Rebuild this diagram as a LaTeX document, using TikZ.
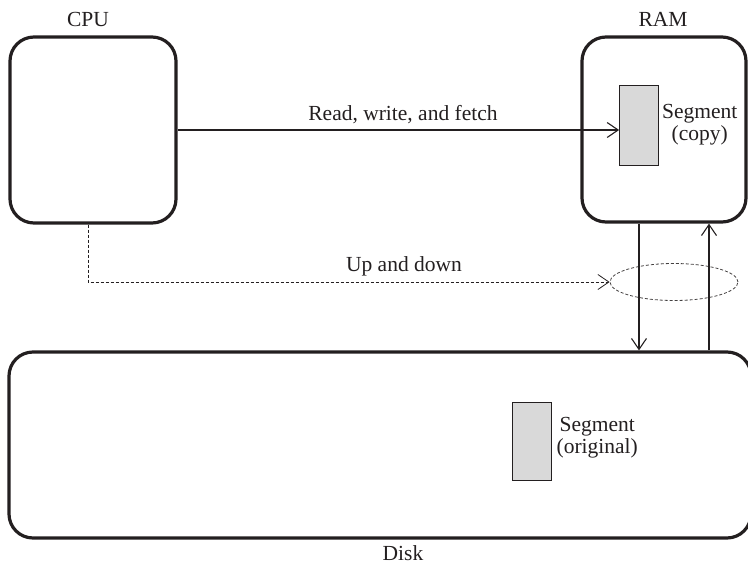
\documentclass[tikz,border=0pt]{standalone}
\usepackage{fontspec}
\setmainfont{Liberation Serif}
\usetikzlibrary{arrows.meta,shapes.geometric,positioning}
\definecolor{ink}{HTML}{231F20}
\definecolor{segfill}{HTML}{D9D9D9}
\tikzset{
	unit/.style={draw=ink, line width=3.2pt, rounded corners=24pt, inner sep=0pt},
	seg/.style={draw=ink, fill=segfill, line width=0.8pt, minimum width=39pt, minimum height=80pt, inner sep=0pt},
	lbl/.style={font=\fontsize{21.5}{22}\selectfont, text=ink, inner sep=1pt},
	link/.style={draw=ink, line width=1.1pt, -{Straight Barb[length=11pt,width=15pt]}},
	dlink/.style={link, line width=0.8pt, dash pattern=on 3pt off 2pt},
}

\begin{document}
\begin{tikzpicture}[x=1pt, y=-1pt]
			%%%%% START %%%%%
			\useasboundingbox (0, 0) rectangle (748, 565);
			
			\node[unit, minimum width=166pt, minimum height=186pt] (cpu) at (93, 130) {};
			\node[unit, minimum width=164pt, minimum height=185pt] (ram) at (664, 129.5) {};
			\node[unit, minimum width=742pt, minimum height=186pt] (disk) at (380, 445) {};
			
			\node[lbl, anchor=base] (cpulbl) at (88, 26) {CPU};
			\node[lbl, anchor=base] (ramlbl) at (663, 26) {RAM};
			\node[lbl, anchor=base] (disklbl) at (403, 560) {Disk};
			
			\node[seg] (segcopy) at (639, 125) {};
			\node[lbl, align=center, right=2pt of segcopy] (copylbl) {Segment\\(copy)};
			\node[seg, minimum height=78pt] (segorig) at (531.5, 441) {};
			\node[lbl, align=center, right=4pt of segorig, yshift=3pt] (origlbl) {Segment\\(original)};
			
			\node[ellipse, draw=ink!85, line width=0.8pt, dash pattern=on 3pt off 2pt,
				minimum width=128pt, minimum height=37pt, inner sep=0pt] (swap) at (674, 282) {};
			
			\node[lbl, anchor=base] (rwlbl) at (403, 120) {Read, write, and fetch};
			\node[lbl, anchor=base] (udlbl) at (404, 271) {Up and down};
			
			\draw[link] (cpu.east) -- (cpu.east -| segcopy.west);
			
			\coordinate (upx) at (709, 0);
			\coordinate (dnx) at (88, 0);
			\draw[link] (segcopy |- ram.south) -- (segcopy |- disk.north);
			\draw[link] (upx |- disk.north) -- (upx |- ram.south);
			\draw[dlink] (dnx |- cpu.south) |- (swap.west);
			
			%%%%% END %%%%%
\end{tikzpicture}
\end{document}
